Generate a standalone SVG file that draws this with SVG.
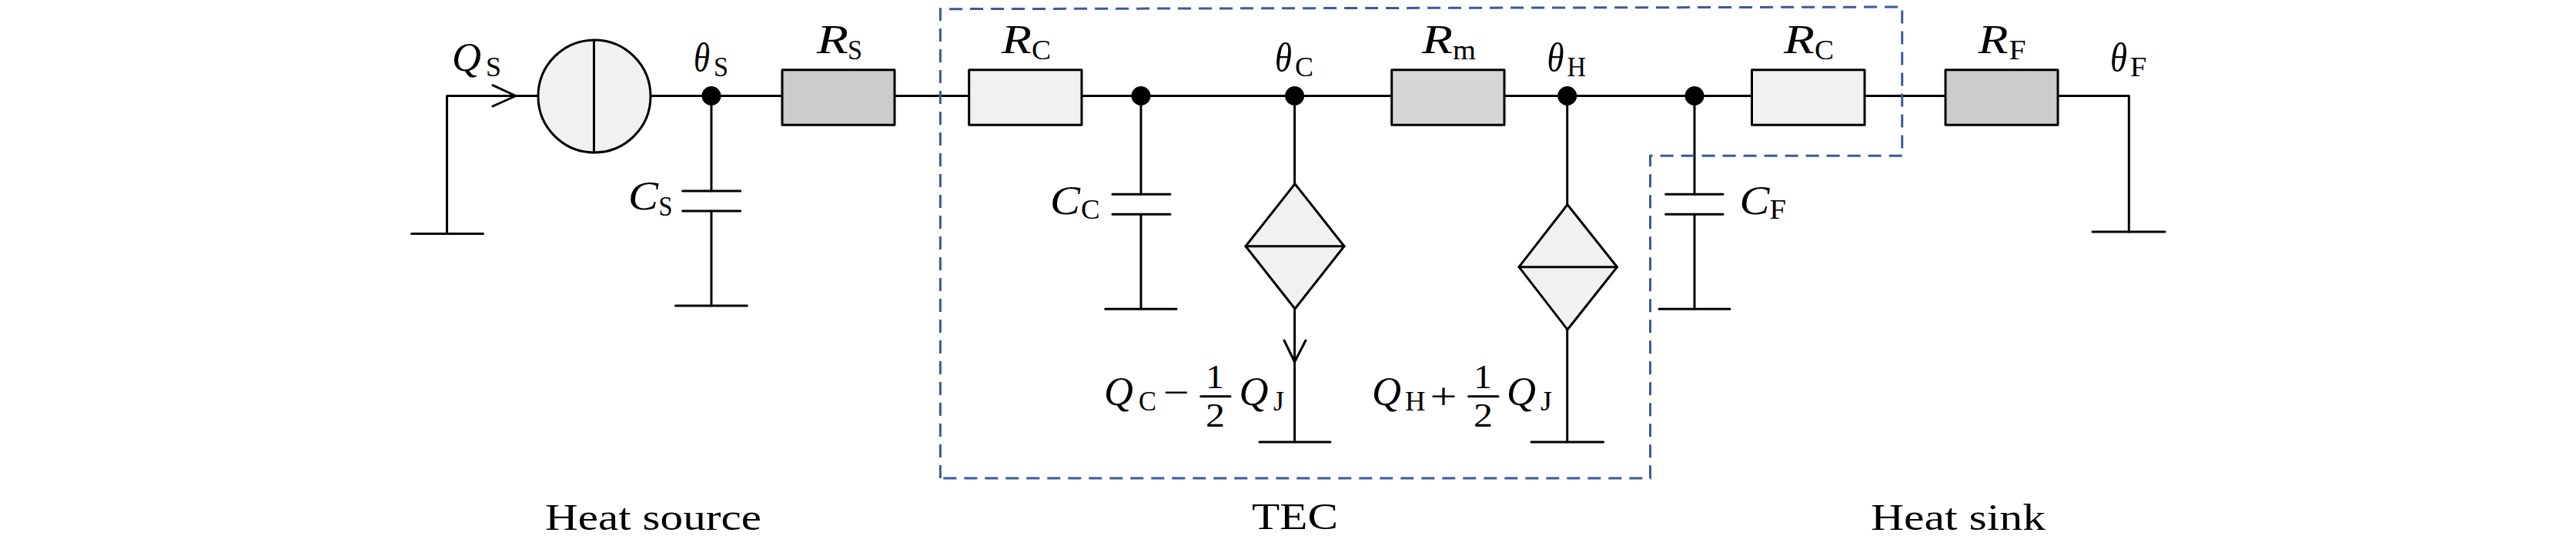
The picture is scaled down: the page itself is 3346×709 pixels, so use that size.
<svg xmlns="http://www.w3.org/2000/svg" width="3346" height="709" viewBox="0 0 3346 709">
<style>
text{font-family:"Liberation Serif","Times New Roman",serif;fill:#000}
.m{font-size:52px;font-style:italic}
.s{font-size:36px;font-style:normal}
.t{font-size:49px}
.f{font-size:44px;font-style:normal}
.w{fill:none;stroke:#000;stroke-width:3;stroke-linecap:round;stroke-linejoin:round}
.p{stroke:#000;stroke-width:3;stroke-linejoin:round}
.d{fill:#000}
.b{fill:none;stroke:#3b5a9a;stroke-width:3;stroke-dasharray:17 10;stroke-linejoin:miter}
</style>
<rect width="3346" height="709" fill="#fff"/>
<g id="connectors" class="w">
<path d="M580.6 303.5V124.5H699M670 124.5L640 110.7M670 124.5L640 138"/>
<path d="M845 124.5H1016M1162 124.5H1258.7M1405 124.5H1807.7M1954 124.5H2275.5M2422 124.5H2527M2673 124.5H2765.3V301"/>
<path d="M924 124.5V248M924 274V397"/>
<path d="M1482 124.5V252.3M1482 278.3V401.3"/>
<path d="M1681.6 124.5V238.7M1681.6 401V574M1681.6 470L1668 442M1681.6 470L1696 442"/>
<path d="M2035.7 124.5V265.7M2035.7 428V574"/>
<path d="M2201 124.5V252.3M2201 278.3V401.3"/>
</g>
<g id="tec-boundary"><path class="b" d="M1221.4 621V11.7L2470.7 9V202.3H2143.5V621Z"/></g>
<g id="source-ground"><path class="w" d="M534.7 303.5H627.5"/></g>
<g id="source"><circle cx="772" cy="125" r="73" fill="#f1f1f1" class="p"/><path class="w" d="M771.5 52V198"/></g>
<g id="label-qs"><text class="m" x="587" y="91.7"><tspan textLength="38" lengthAdjust="spacingAndGlyphs">Q</tspan><tspan class="s" x="631" y="99" textLength="20" lengthAdjust="spacingAndGlyphs">S</tspan></text></g>
<g id="node-theta-s"><ellipse class="d" cx="924" cy="124.5" rx="12.5" ry="12.5"/><text class="m" x="901" y="91.7"><tspan textLength="21" lengthAdjust="spacingAndGlyphs">θ</tspan><tspan class="s" x="927" y="99" textLength="19" lengthAdjust="spacingAndGlyphs">S</tspan></text></g>
<g id="cap-s"><path class="w" d="M886.7 248H961.7M886.7 274H961.7M877.5 397H970.4"/><text class="m" x="816" y="272"><tspan textLength="39" lengthAdjust="spacingAndGlyphs">C</tspan><tspan class="s" x="855.6" y="280" textLength="18" lengthAdjust="spacingAndGlyphs">S</tspan></text></g>
<g id="res-s"><rect class="p" x="1016" y="90.7" width="146" height="71.6" fill="#cdcccc"/><text class="m" x="1061" y="69.3"><tspan textLength="41" lengthAdjust="spacingAndGlyphs">R</tspan><tspan class="s" x="1101" y="76.7" textLength="19" lengthAdjust="spacingAndGlyphs">S</tspan></text></g>
<g id="res-c1"><rect class="p" x="1258.7" y="90.7" width="146.3" height="71.6" fill="#f1f1f1"/><text class="m" x="1301" y="69.3"><tspan textLength="39" lengthAdjust="spacingAndGlyphs">R</tspan><tspan class="s" x="1340" y="76.7" textLength="25" lengthAdjust="spacingAndGlyphs">C</tspan></text></g>
<g id="node-c1"><ellipse class="d" cx="1482" cy="124.5" rx="12.5" ry="12.5"/></g>
<g id="cap-c"><path class="w" d="M1445 252.3H1520M1445 278.3H1520M1435.7 401.3H1528"/><text class="m" x="1364" y="277.5"><tspan textLength="39" lengthAdjust="spacingAndGlyphs">C</tspan><tspan class="s" x="1404" y="284" textLength="24.6" lengthAdjust="spacingAndGlyphs">C</tspan></text></g>
<g id="node-theta-c"><ellipse class="d" cx="1681.6" cy="124.5" rx="12.5" ry="12.5"/><text class="m" x="1656" y="91.7"><tspan textLength="22" lengthAdjust="spacingAndGlyphs">θ</tspan><tspan class="s" x="1682" y="99" textLength="24" lengthAdjust="spacingAndGlyphs">C</tspan></text></g>
<g id="source-c"><path class="p" fill="#f1f1f1" d="M1682 238.7L1746 319.7L1682 401L1618 319.7Z"/><path class="w" d="M1618 319.7H1746"/></g>
<g id="ground-c"><path class="w" d="M1636 574H1728M1559.7 514.7H1598"/>
<text class="m" x="1434" y="526"><tspan textLength="38" lengthAdjust="spacingAndGlyphs">Q</tspan><tspan class="s" x="1479" y="533" textLength="23" lengthAdjust="spacingAndGlyphs">C</tspan><tspan class="t" font-style="normal" x="1511" y="526" textLength="34" lengthAdjust="spacingAndGlyphs">−</tspan><tspan class="f" x="1566" y="504" textLength="24" lengthAdjust="spacingAndGlyphs">1</tspan><tspan class="f" x="1566" y="554" textLength="25" lengthAdjust="spacingAndGlyphs">2</tspan><tspan x="1609.5" y="526" textLength="38" lengthAdjust="spacingAndGlyphs">Q</tspan><tspan class="s" x="1654" y="533" textLength="14" lengthAdjust="spacingAndGlyphs">J</tspan></text></g>
<g id="res-m"><rect class="p" x="1807.7" y="90.7" width="146.3" height="71.6" fill="#d6d6d6"/><text class="m" x="1847" y="69.3"><tspan textLength="40" lengthAdjust="spacingAndGlyphs">R</tspan><tspan class="s" x="1887" y="76.7" textLength="30" lengthAdjust="spacingAndGlyphs">m</tspan></text></g>
<g id="node-theta-h"><ellipse class="d" cx="2035.7" cy="124.5" rx="12.5" ry="12.5"/><text class="m" x="2009.5" y="91.7"><tspan textLength="22" lengthAdjust="spacingAndGlyphs">θ</tspan><tspan class="s" x="2035.6" y="99" textLength="24.5" lengthAdjust="spacingAndGlyphs">H</tspan></text></g>
<g id="source-h"><path class="p" fill="#f1f1f1" d="M2036 265.7L2100.5 346.7L2036 428L1973 346.7Z"/><path class="w" d="M1973 346.7H2100.5"/></g>
<g id="ground-h"><path class="w" d="M1989 574H2082.6M1907.6 514.7H1946"/>
<text class="m" x="1782" y="526"><tspan textLength="38" lengthAdjust="spacingAndGlyphs">Q</tspan><tspan class="s" x="1825" y="533" textLength="26.5" lengthAdjust="spacingAndGlyphs">H</tspan><tspan class="t" font-style="normal" x="1857.5" y="531" textLength="35" lengthAdjust="spacingAndGlyphs">+</tspan><tspan class="f" x="1914" y="504" textLength="24" lengthAdjust="spacingAndGlyphs">1</tspan><tspan class="f" x="1914" y="554" textLength="25" lengthAdjust="spacingAndGlyphs">2</tspan><tspan x="1957" y="526" textLength="38" lengthAdjust="spacingAndGlyphs">Q</tspan><tspan class="s" x="2001" y="533" textLength="15" lengthAdjust="spacingAndGlyphs">J</tspan></text></g>
<g id="node-c2"><ellipse class="d" cx="2201" cy="124.5" rx="12.5" ry="12.5"/></g>
<g id="cap-f"><path class="w" d="M2163.6 252.3H2238M2163.6 278.3H2238M2155 401.3H2247"/><text class="m" x="2259.5" y="277.5"><tspan textLength="39" lengthAdjust="spacingAndGlyphs">C</tspan><tspan class="s" x="2298.5" y="284" textLength="21.5" lengthAdjust="spacingAndGlyphs">F</tspan></text></g>
<g id="res-c2"><rect class="p" x="2275.5" y="90.7" width="146.5" height="71.6" fill="#f1f1f1"/><text class="m" x="2317" y="69.3"><tspan textLength="40" lengthAdjust="spacingAndGlyphs">R</tspan><tspan class="s" x="2357" y="76.7" textLength="25" lengthAdjust="spacingAndGlyphs">C</tspan></text></g>
<g id="res-f"><rect class="p" x="2527" y="90.7" width="146" height="71.6" fill="#cdcccc"/><text class="m" x="2569.5" y="69.3"><tspan textLength="39" lengthAdjust="spacingAndGlyphs">R</tspan><tspan class="s" x="2609.6" y="76.7" textLength="22" lengthAdjust="spacingAndGlyphs">F</tspan></text></g>
<g id="sink-ground"><path class="w" d="M2718 301H2812"/><text class="m" x="2741" y="91.7"><tspan textLength="22" lengthAdjust="spacingAndGlyphs">θ</tspan><tspan class="s" x="2766.7" y="99" textLength="21.5" lengthAdjust="spacingAndGlyphs">F</tspan></text></g>
<g id="captions">
<text class="t" x="708" y="688" textLength="281" lengthAdjust="spacingAndGlyphs">Heat source</text>
<text class="t" x="1626" y="687.3" textLength="112" lengthAdjust="spacingAndGlyphs">TEC</text>
<text class="t" x="2430" y="688" textLength="227" lengthAdjust="spacingAndGlyphs">Heat sink</text>
</g>
</svg>
